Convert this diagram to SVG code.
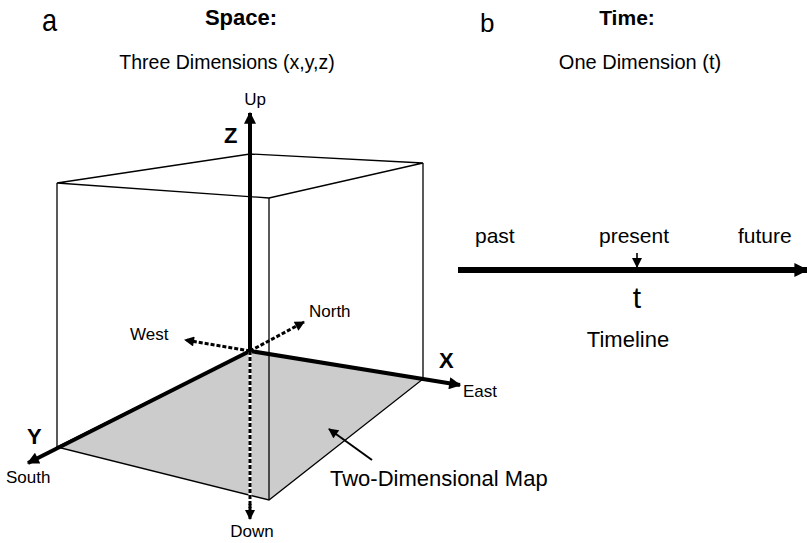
<svg xmlns="http://www.w3.org/2000/svg" width="807" height="543" viewBox="0 0 807 543">
<defs>
<style>
text{font-family:"Liberation Sans",Arial,sans-serif;fill:#000}
.lbl{font-size:17px}
.ax{font-size:22px;font-weight:bold}
.tl{font-size:21px}
.edge{fill:none;stroke:#000;stroke-width:1.3}
.thick{fill:none;stroke:#000;stroke-width:4}
.dash{fill:none;stroke:#000;stroke-width:3;stroke-dasharray:4 2}
</style>
<marker id="ah" viewBox="0 0 10 10" refX="9" refY="5" markerWidth="14" markerHeight="12" markerUnits="userSpaceOnUse" orient="auto"><path d="M0,0 L10,5 L0,10 z" fill="#000"/></marker>
<marker id="aht" viewBox="0 0 10 10" refX="9" refY="5" markerWidth="14" markerHeight="16" markerUnits="userSpaceOnUse" orient="auto"><path d="M0,0 L10,5 L0,10 z" fill="#000"/></marker>
<marker id="ahs" viewBox="0 0 10 10" refX="9" refY="5" markerWidth="11" markerHeight="10" markerUnits="userSpaceOnUse" orient="auto"><path d="M0,0 L10,5 L0,10 z" fill="#000"/></marker>
</defs>
<rect width="807" height="543" fill="#fff"/>
<g id="headers">
<text font-size="32" transform="translate(42,31) scale(0.85,1)">a</text>
<text x="241" y="25" font-size="22" font-weight="bold" text-anchor="middle">Space:</text>
<text x="227" y="69" font-size="19.5" text-anchor="middle">Three Dimensions (x,y,z)</text>
<text x="480" y="32" font-size="26">b</text>
<text x="627" y="25" font-size="21" font-weight="bold" text-anchor="middle">Time:</text>
<text x="640" y="69" font-size="20" text-anchor="middle">One Dimension (t)</text>
</g>
<g id="map">
<polygon points="250,351 423,379 269,500 57,447" fill="#cccccc" stroke="#000" stroke-width="1.3"/>
</g>
<g id="box">
<polygon class="edge" points="57,183 250,154 423,163 269,198"/>
<line class="edge" x1="57" y1="183" x2="57" y2="447"/>
<line class="edge" x1="269" y1="198" x2="269" y2="500"/>
<line class="edge" x1="423" y1="163" x2="423" y2="379"/>
</g>
<g id="connectors">
<line class="thick" x1="250" y1="351" x2="250" y2="113" marker-end="url(#ah)"/>
<line class="thick" x1="250" y1="351" x2="460" y2="385" marker-end="url(#ah)"/>
<line class="thick" x1="250" y1="351" x2="28" y2="463" marker-end="url(#ah)"/>
<line x1="250" y1="351" x2="250" y2="508" stroke="#fff" stroke-width="3"/>
<line class="dash" x1="250" y1="351" x2="250" y2="508"/>
<line x1="250" y1="504" x2="250" y2="519" stroke="#000" stroke-width="3" marker-end="url(#ahs)"/>
<line class="dash" x1="250" y1="351" x2="185" y2="340" marker-end="url(#ahs)"/>
<line class="dash" x1="250" y1="351" x2="304" y2="322" marker-end="url(#ahs)"/>
<line x1="372" y1="460" x2="329" y2="429" stroke="#000" stroke-width="2" marker-end="url(#ahs)"/>
<line x1="458" y1="270" x2="807" y2="270" stroke="#000" stroke-width="6" marker-end="url(#aht)"/>
<line x1="637" y1="253" x2="637" y2="267" stroke="#000" stroke-width="1.6" marker-end="url(#ahs)"/>
</g>
<g id="labels">
<text class="lbl" x="255" y="105" text-anchor="middle">Up</text>
<text class="ax" x="224" y="143">Z</text>
<text class="lbl" x="309" y="317">North</text>
<text class="lbl" x="130" y="340">West</text>
<text class="ax" x="439" y="368">X</text>
<text class="lbl" x="463" y="397">East</text>
<text class="ax" x="27" y="444">Y</text>
<text class="lbl" x="6" y="483">South</text>
<text class="lbl" x="252" y="537" text-anchor="middle">Down</text>
<text x="330" y="486" font-size="22">Two-Dimensional Map</text>
</g>
<g id="timeline">
<text class="tl" x="475" y="243">past</text>
<text class="tl" x="599" y="243">present</text>
<text class="tl" x="738" y="243">future</text>
<text x="637" y="308" font-size="30" text-anchor="middle">t</text>
<text x="628" y="347" font-size="22" text-anchor="middle">Timeline</text>
</g>
</svg>
